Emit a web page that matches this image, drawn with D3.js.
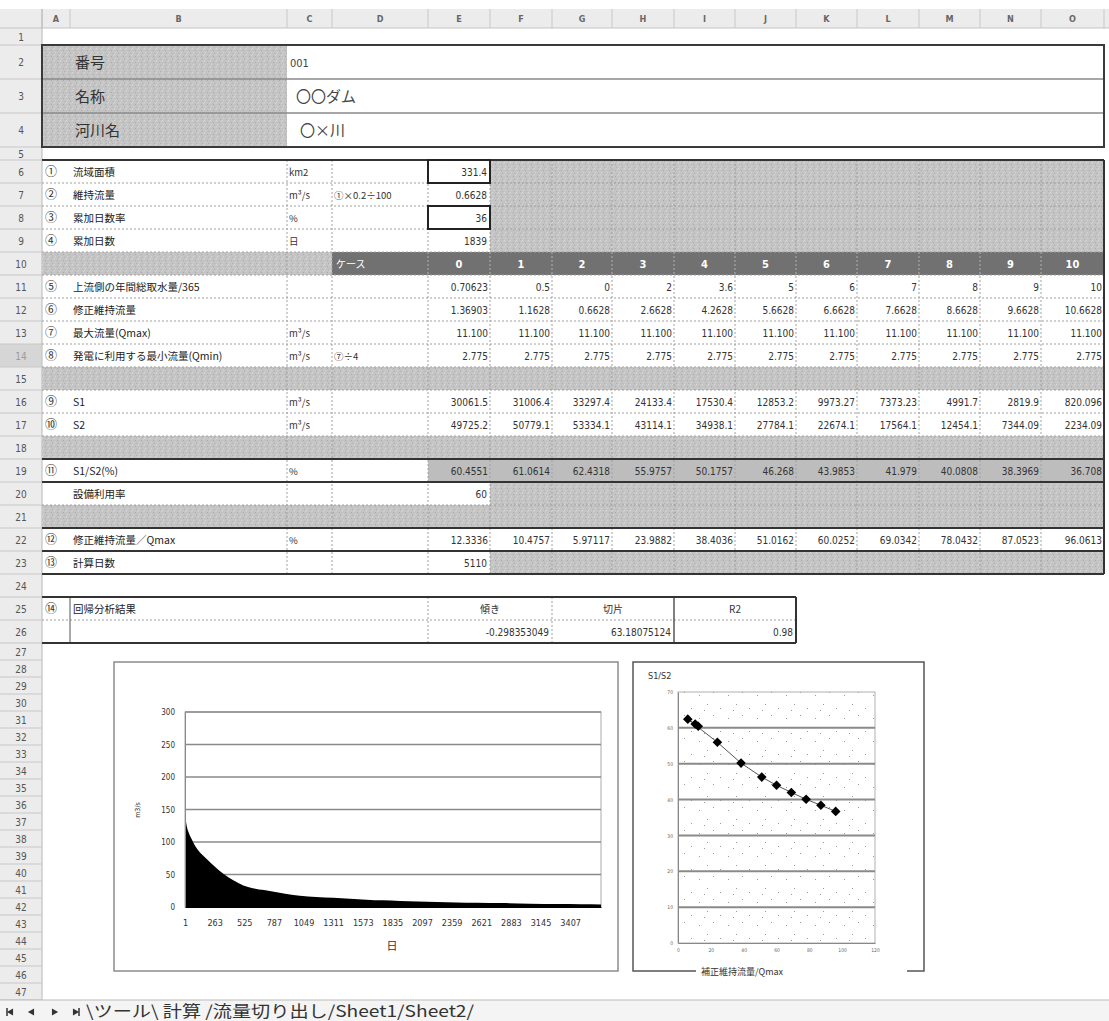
<!DOCTYPE html>
<html>
<head>
<meta charset="utf-8">
<title>計算</title>
<script src="https://cdn.jsdelivr.net/npm/d3@7"></script>
<style>
body{margin:0;background:#fff;}
svg{display:block;}
.jp{font-family:'Noto Sans CJK JP',sans-serif;}
.num{font-family:'Liberation Sans Narrow','DejaVu Sans Condensed',sans-serif;}
</style>
</head>
<body>
<svg id="sheet" width="1109" height="1021"></svg>
<script>
// ---- sheet data ----
var colNames = ["A","B","C","D","E","F","G","H","I","J","K","L","M","N","O"];
var headNames = ["番号","名称","河川名"];
var headValues = ["001","〇〇ダム","〇×川"];

var itemRows   = [6,7,8,9,11,12,13,14,16,17,19,20,22,23,25];
var itemMarks  = ["①","②","③","④","⑤","⑥","⑦","⑧","⑨","⑩","⑪","","⑫","⑬","⑭"];
var itemNames  = ["流域面積","維持流量","累加日数率","累加日数","上流側の年間総取水量/365","修正維持流量",
                  "最大流量(Qmax)","発電に利用する最小流量(Qmin)","S1","S2","S1/S2(%)","設備利用率",
                  "修正維持流量／Qmax","計算日数","回帰分析結果"];
var itemUnits  = ["km2","m³/s","%","日","","","m³/s","m³/s","m³/s","m³/s","%","","%","","",""];
var itemNotes  = ["","①×0.2÷100","","","","","","⑦÷4","","","","","","",""];

var inputRows   = [6,7,8,9,20,23];
var inputValues = [331.4,0.6628,36,1839,60,5110];

var caseNos        = [0,1,2,3,4,5,6,7,8,9,10];
var upstreamIntake = [0.70623,0.5,0,2,3.6,5,6,7,8,9,10];
var correctedFlow  = [1.36903,1.1628,0.6628,2.6628,4.2628,5.6628,6.6628,7.6628,8.6628,9.6628,10.6628];
var maxFlow        = [11.1,11.1,11.1,11.1,11.1,11.1,11.1,11.1,11.1,11.1,11.1];
var minFlow        = [2.775,2.775,2.775,2.775,2.775,2.775,2.775,2.775,2.775,2.775,2.775];
var s1             = [30061.5,31006.4,33297.4,24133.4,17530.4,12853.2,9973.27,7373.23,4991.7,2819.9,820.096];
var s2             = [49725.2,50779.1,53334.1,43114.1,34938.1,27784.1,22674.1,17564.1,12454.1,7344.09,2234.09];
var s1s2           = [60.4551,61.0614,62.4318,55.9757,50.1757,46.268,43.9853,41.979,40.0808,38.3969,36.708];
var flowRatio      = [12.3336,10.4757,5.97117,23.9882,38.4036,51.0162,60.0252,69.0342,78.0432,87.0523,96.0613];

var regHeads  = ["傾き","切片","R2"];
var regValues = ["-0.298353049","63.18075124","0.98"];

// flow duration curve
var flowDays   = [1,8,20,35,55,75,119,193,266,340,428,517,600,700,800,900,1017,1160,1312,1460,1607,1750,1902,2060,2226,2400,2580,2800,3052,3300,3500,3680];
var flowValues = [145,134,122,114,106,99,87,74,62,51,41,33,29,26,23,20,17.5,15.5,14.4,12.8,11.3,10.2,9.2,8.4,7.7,7.1,6.7,6.0,5.1,4.6,4.3,4.0];
var dayTicks   = [1,263,525,787,1049,1311,1573,1835,2097,2359,2621,2883,3145,3407];
var flowTicks  = [0,50,100,150,200,250,300];
var ratioTicksY = [0,10,20,30,40,50,60,70];
var ratioTicksX = [0,20,40,60,80,100,120];

var tabText = "\\ツール\\ 計算 /流量切り出し/Sheet1/Sheet2/";

// ---- layout ----
var svg = d3.select("#sheet");
var colEdges = [42,70,287,332,428,490,552,612,674,735,796,857,919,980,1041,1104];
var rowHeights = [17,34,34,34,13];
for (var i = 0; i < 21; i++) rowHeights.push(23);
for (var i = 0; i < 21; i++) rowHeights.push(17);
var rowTops = [28];
rowHeights.forEach(function(h,i){ rowTops.push(rowTops[i]+h); });
function rt(r){ return rowTops[r-1]; }
function rh(r){ return rowHeights[r-1]; }
function mid(r){ return rt(r) + rh(r)/2 + 4; }

var defs = svg.append("defs");
var hatch = defs.append("pattern").attr("id","hatch").attr("width",6).attr("height",6).attr("patternUnits","userSpaceOnUse");
hatch.append("rect").attr("width",6).attr("height",6).attr("fill","#c4c4c4");
[[0,0,"#dcdcdc"],[3,2,"#a9a9a9"],[1,4,"#d6d6d6"],[4,5,"#b2b2b2"],[5,1,"#d0d0d0"]].forEach(function(p){
  hatch.append("rect").attr("x",p[0]).attr("y",p[1]).attr("width",1).attr("height",1).attr("fill",p[2]);
});
var dots = defs.append("pattern").attr("id","dots").attr("width",29).attr("height",23).attr("patternUnits","userSpaceOnUse");
dots.append("rect").attr("width",29).attr("height",23).attr("fill","#fff");
[[3,5],[17,2],[11,14],[24,18],[8,20]].forEach(function(p){
  dots.append("rect").attr("x",p[0]).attr("y",p[1]).attr("width",1).attr("height",1).attr("fill","#9a9a9a");
});

svg.append("rect").attr("width",1109).attr("height",1021).attr("fill","#fff");

function fillCells(r1,r2,c1,c2,fill){
  svg.append("rect").attr("x",colEdges[c1]).attr("y",rt(r1))
    .attr("width",colEdges[c2+1]-colEdges[c1]).attr("height",rt(r2+1)-rt(r1)).attr("fill",fill);
}
function hline(y,x1,x2,stroke,w,dash){
  svg.append("line").attr("x1",x1).attr("x2",x2).attr("y1",y).attr("y2",y)
    .attr("stroke",stroke).attr("stroke-width",w).attr("stroke-dasharray",dash||null);
}
function vline(x,y1,y2,stroke,w,dash){
  svg.append("line").attr("x1",x).attr("x2",x).attr("y1",y1).attr("y2",y2)
    .attr("stroke",stroke).attr("stroke-width",w).attr("stroke-dasharray",dash||null);
}
function txt(x,y,s,cls,size,anchor,fill,weight){
  return svg.append("text").attr("x",x).attr("y",y).attr("class",cls).attr("font-size",size)
    .attr("text-anchor",anchor||"start").attr("fill",fill||"#222").attr("font-weight",weight||null).text(s);
}

// column / row headers
svg.append("rect").attr("x",0).attr("y",9).attr("width",1109).attr("height",19).attr("fill","#ececec");
svg.append("rect").attr("x",0).attr("y",9).attr("width",42).attr("height",991).attr("fill","#ececec");
hline(28,0,1109,"#c4c4c4",1);
colEdges.forEach(function(x){ vline(x,9,28,"#c8c8c8",1); });
vline(42,9,1000,"#b8b8b8",1);
colNames.forEach(function(c,i){
  txt((colEdges[i]+colEdges[i+1])/2,22,c,"num",9,"middle","#666","bold");
});
rowTops.slice(0,-1).forEach(function(y,i){
  hline(rowTops[i+1],0,42,"#c8c8c8",1);
  txt(21,rowTops[i]+rowHeights[i]/2+4,String(i+1),"num",10,"middle","#555");
});
svg.append("rect").attr("x",0).attr("y",rt(14)).attr("width",42).attr("height",rh(14)).attr("fill","#c8c8c8").attr("opacity",0.6);

// title block rows 2-4
fillCells(2,4,0,1,"url(#hatch)");
headNames.forEach(function(s,i){
  txt(75,mid(2+i)+2,s,"jp",15,"start","#333");
});
txt(290,mid(2)+1,headValues[0],"num",11,"start","#444");
txt(296,mid(3)+2,headValues[1],"jp",15,"start","#444");
txt(300,mid(4)+2,headValues[2],"jp",15,"start","#444");
hline(rt(3),42,1104,"#8a8a8a",1.5);
hline(rt(4),42,1104,"#8a8a8a",1.5);
svg.append("rect").attr("x",42).attr("y",rt(2)).attr("width",1062).attr("height",rt(5)-rt(2))
  .attr("fill","none").attr("stroke","#3a3a3a").attr("stroke-width",2);

// main table fills
fillCells(6,9,5,14,"url(#hatch)");
fillCells(10,10,0,2,"url(#hatch)");
fillCells(10,10,3,14,"#717171");
fillCells(15,15,0,14,"url(#hatch)");
fillCells(18,18,0,14,"url(#hatch)");
fillCells(19,19,4,14,"#bdbdbd");
fillCells(20,20,5,14,"url(#hatch)");
fillCells(21,21,0,14,"url(#hatch)");
fillCells(23,23,5,14,"url(#hatch)");

// dashed cell gridlines
for (var r = 7; r <= 23; r++) hline(rt(r),42,1104,"#a0a0a0",1,"2,2");
colEdges.slice(2,15).forEach(function(x){ vline(x,rt(6),rt(24),"#a0a0a0",1,"2,2"); });

// thick borders
[6,19,20,22,23,24].forEach(function(r){ hline(rt(r),42,1104,"#333",2); });
vline(1104,rt(6),rt(24),"#333",2);
[6,8].forEach(function(r){
  svg.append("rect").attr("x",428).attr("y",rt(r)).attr("width",62).attr("height",rh(r))
    .attr("fill","none").attr("stroke","#222").attr("stroke-width",2);
});

// regression block rows 25-26
hline(rt(26),42,796,"#a0a0a0",1,"2,2");
vline(70,rt(25),rt(27),"#555",1);
vline(428,rt(25),rt(27),"#a0a0a0",1,"2,2");
vline(552,rt(25),rt(27),"#a0a0a0",1,"2,2");
vline(674,rt(25),rt(27),"#555",1.5);
hline(rt(25),42,796,"#333",2);
hline(rt(27),42,796,"#333",2);
vline(796,rt(25),rt(27),"#333",2);
var regCols = [[428,552],[552,674],[674,796]];
regHeads.forEach(function(s,i){ txt((regCols[i][0]+regCols[i][1])/2,mid(25),s,"jp",10,"middle","#333"); });
regValues.forEach(function(s,i){ txt(regCols[i][1]-3,mid(26),s,"num",10,"end","#333"); });

// item labels
itemRows.forEach(function(r,i){
  txt(45,mid(r),itemMarks[i],"jp",12,"start","#333");
  txt(73,mid(r),itemNames[i],"jp",10.5,"start","#222");
  if (itemUnits[i]) txt(289,mid(r),itemUnits[i],"jp",9.5,"start","#333");
  if (itemNotes[i]) txt(334,mid(r),itemNotes[i],"jp",9.5,"start","#333");
});
inputRows.forEach(function(r,i){ txt(487,mid(r),String(inputValues[i]),"num",10,"end","#333"); });

// case header row 10
txt(336,mid(10),"ケース","jp",10,"start","#fff");
caseNos.forEach(function(c,i){
  txt((colEdges[4+i]+colEdges[5+i])/2,mid(10),String(c),"num",11,"middle","#fff","bold");
});
colEdges.slice(4,15).forEach(function(x){ vline(x,rt(10),rt(11),"#9a9a9a",1,"2,2"); });

var f3 = d3.format(".3f");
[[11,upstreamIntake,String],[12,correctedFlow,String],[13,maxFlow,f3],[14,minFlow,f3],
 [16,s1,String],[17,s2,String],[19,s1s2,String],[22,flowRatio,String]].forEach(function(d){
  d[1].forEach(function(v,i){
    txt(colEdges[5+i]-2,mid(d[0]),d[2](v),"num",10,"end","#333");
  });
});

// ---- chart 1: flow duration ----
svg.append("rect").attr("x",114).attr("y",662).attr("width",504).attr("height",309)
  .attr("fill","#fff").attr("stroke","#8c8c8c").attr("stroke-width",1.5);
var xDay = d3.scaleLinear().domain([1,3680]).range([185,601]);
var yFlow = d3.scaleLinear().domain([0,300]).range([907,712]);
svg.append("rect").attr("x",185).attr("y",712).attr("width",416).attr("height",195)
  .attr("fill","#fff").attr("stroke","#aaa").attr("stroke-width",1);
flowTicks.slice(1).forEach(function(t){ hline(yFlow(t),185,601,"#8a8a8a",1.5); });
var flowPts = flowDays.map(function(d,i){ return [d,flowValues[i]]; });
svg.append("path").datum(flowPts)
  .attr("d",d3.area().x(function(d){return xDay(d[0]);}).y0(yFlow(0)).y1(function(d){return yFlow(d[1]);}).curve(d3.curveMonotoneX))
  .attr("fill","#000");
var gy1 = svg.append("g").attr("transform","translate(185,0)")
  .call(d3.axisLeft(yFlow).tickValues(flowTicks).tickSize(0).tickPadding(10));
gy1.select(".domain").attr("stroke","#888");
gy1.selectAll("text").attr("class","num").attr("font-size",8).attr("fill","#333");
var gx1 = svg.append("g").attr("transform","translate(0,907)")
  .call(d3.axisBottom(xDay).tickValues(dayTicks).tickFormat(d3.format("d")).tickSize(0).tickPadding(13));
gx1.select(".domain").attr("stroke","#000");
gx1.selectAll("text").attr("class","num").attr("font-size",9).attr("fill","#333");
txt(392,950,"日","jp",11,"middle","#333");
txt(0,0,"m3/s","num",7,"middle","#333").attr("transform","translate(140,810) rotate(-90)");

// ---- chart 2: S1/S2 vs corrected flow / Qmax ----
var xR = d3.scaleLinear().domain([0,120]).range([678,875]);
var yR = d3.scaleLinear().domain([0,70]).range([943,692]);
svg.append("path").attr("d","M696,971 H633 V662 H924 V971 H907")
  .attr("fill","none").attr("stroke","#555").attr("stroke-width",1.5);
svg.append("rect").attr("x",678).attr("y",692).attr("width",197).attr("height",251)
  .attr("fill","url(#dots)").attr("stroke","#b0b0b0").attr("stroke-width",1);
ratioTicksY.slice(1,-1).forEach(function(t){ hline(yR(t),678,875,"#8a8a8a",2); });
var gy2 = svg.append("g").attr("transform","translate(678,0)")
  .call(d3.axisLeft(yR).tickValues(ratioTicksY).tickSize(0).tickPadding(5));
gy2.select(".domain").attr("stroke","#888");
gy2.selectAll("text").attr("class","num").attr("font-size",5).attr("fill","#666");
var gx2 = svg.append("g").attr("transform","translate(0,943)")
  .call(d3.axisBottom(xR).tickValues(ratioTicksX).tickSize(0).tickPadding(5));
gx2.select(".domain").attr("stroke","#888");
gx2.selectAll("text").attr("class","num").attr("font-size",5).attr("fill","#666");
var ratioPts = flowRatio.map(function(x,i){ return [x,s1s2[i]]; });
svg.append("path").datum(ratioPts)
  .attr("d",d3.line().x(function(d){return xR(d[0]);}).y(function(d){return yR(d[1]);}))
  .attr("fill","none").attr("stroke","#555").attr("stroke-width",1);
svg.selectAll("path.mk").data(ratioPts).enter().append("path").attr("class","mk")
  .attr("d",d3.symbol(d3.symbolSquare,46))
  .attr("transform",function(d){ return "translate("+xR(d[0])+","+yR(d[1])+") rotate(45)"; })
  .attr("fill","#000");
txt(648,679,"S1/S2","num",9,"start","#333");
txt(701,975,"補正維持流量/Qmax","jp",9,"start","#333");

// ---- sheet tabs ----
svg.append("rect").attr("x",0).attr("y",1000).attr("width",1109).attr("height",21).attr("fill","#f4f4f4");
hline(1000,0,1109,"#bbb",1);
[[11,-90,true],[32,-90,false],[54,90,false],[75,90,true]].forEach(function(a){
  svg.append("path").attr("d",d3.symbol(d3.symbolTriangle,22))
    .attr("transform","translate("+a[0]+",1012) rotate("+a[1]+")").attr("fill","#333");
  if (a[2]) vline(a[0]+(a[1]<0?-4:4),1008,1016,"#333",1.5);
});
txt(86,1017,tabText,"jp",16,"start","#333")
  .attr("textLength",388).attr("lengthAdjust","spacingAndGlyphs");
</script>
</body>
</html>
